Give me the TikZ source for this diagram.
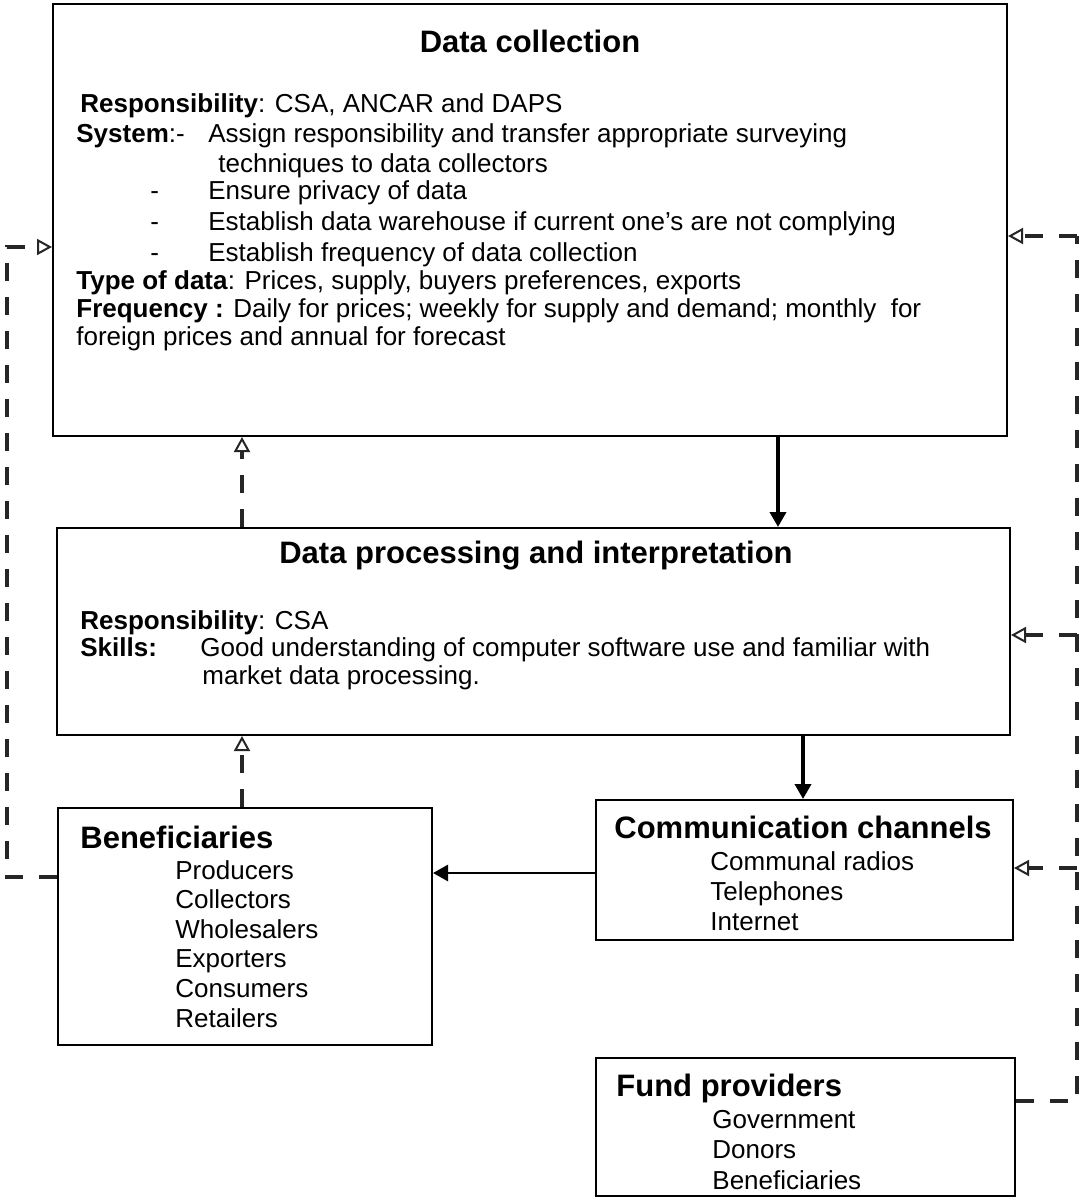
\documentclass[tikz,border=0pt]{standalone}
\usepackage{fontspec}
\setmainfont{Liberation Sans}
\usepackage{tikz}
\usepackage{xcolor}
\usetikzlibrary{arrows.meta,fit}

\begin{document}
\begin{tikzpicture}[x=0.5pt,y=-0.5pt,
	box/.style={draw,line width=1pt,inner sep=0pt},
	head/.style={font=\fontsize{15.5}{18}\selectfont\bfseries,inner sep=0pt},
	txt/.style={font=\fontsize{13}{15.5}\selectfont,inner sep=0pt,anchor=base west},
	solidarrow/.style={line width=1.8pt,-{Triangle[length=7.5pt,width=8pt]}},
	dashline/.style={line width=2pt,black!85,dash pattern=on 9pt off 8pt},
	dasharrow/.style={dashline,-{Triangle[open,length=7.5pt,width=8pt,line width=1pt]}}]
\useasboundingbox (0,0) rectangle (1079,1199);

% boxes
\node[box,fit={(53,4) (1007,436)}] (dc) {};
\node[box,fit={(57,528) (1010,735)}] (dp) {};
\node[box,fit={(58,808) (432,1045)}] (ben) {};
\node[box,fit={(596,800) (1013,940)}] (cc) {};
\node[box,fit={(596,1058) (1015,1196)}] (fp) {};

% data collection
\node[head,anchor=base] (dctitle) at (530,52) {Data collection};
\node[txt] (dcresp) at (80,112) {\textbf{Responsibility}: CSA, ANCAR and DAPS};
\node[txt] (dcsys) at (76,142) {\textbf{System}:-};
\node[txt] (dcsys1) at (208,142) {Assign responsibility and transfer appropriate surveying};
\node[txt] (dcsys2) at (218,172) {techniques to data collectors};
\foreach \t [count=\i] in {Ensure privacy of data,
		Establish data warehouse if current one's are not complying,
		Establish frequency of data collection}{
	\node[txt] (dcdash\i) at (150,{199+31*(\i-1)}) {-};
	\node[txt] (dcitem\i) at (208,{199+31*(\i-1)}) {\t};
}
\node[txt] (dctype) at (76,289) {\textbf{Type of data}: Prices, supply, buyers preferences, exports};
\node[txt] (dcfreq) at (76,317) {\textbf{Frequency :} Daily for prices; weekly for supply and demand; monthly\ \ for};
\node[txt] (dcfreq2) at (76,345) {foreign prices and annual for forecast};

% data processing
\node[head,anchor=base] (dptitle) at (536,563) {Data processing and interpretation};
\node[txt] (dpresp) at (80,629) {\textbf{Responsibility}: CSA};
\node[txt] (dpskill) at (80,656) {\textbf{Skills:}};
\node[txt] (dpskill1) at (200,656) {Good understanding of computer software use and familiar with};
\node[txt] (dpskill2) at (202,684) {market data processing.};

% beneficiaries
\node[head,anchor=base west] (bentitle) at (80,848) {Beneficiaries};
\foreach \t [count=\i] in {Producers,Collectors,Wholesalers,Exporters,Consumers,Retailers}
	\node[txt] (benitem\i) at (175,{879+29.6*(\i-1)}) {\t};

% communication channels
\node[head,anchor=base west] (cctitle) at (614,838) {Communication channels};
\foreach \t [count=\i] in {Communal radios,Telephones,Internet}
	\node[txt] (ccitem\i) at (710,{870+30*(\i-1)}) {\t};

% fund providers
\node[head,anchor=base west] (fptitle) at (616,1096) {Fund providers};
\foreach \t [count=\i] in {Government,Donors,Beneficiaries}
	\node[txt] (fpitem\i) at (712,{1128+30.5*(\i-1)}) {\t};

% connector positions
\coordinate (downa) at (778,0);
\coordinate (downb) at (803,0);
\coordinate (upx) at (242,0);
\coordinate (sidey) at (0,873);
\coordinate (lb) at (7,877);
\coordinate (lt) at (7,247);
\coordinate (rb) at (1077,1101);
\coordinate (rt) at (1077,236);
\coordinate (rm) at (1077,635);
\coordinate (rc) at (1077,868);

% main flow
\draw[solidarrow] (dc.south -| downa) -- (dp.north -| downa);
\draw[solidarrow] (dp.south -| downb) -- (cc.north -| downb);
\draw[solidarrow,line width=1.4pt] (cc.west |- sidey) -- (ben.east |- sidey);

% feedback
\draw[dasharrow] (dp.north -| upx) -- (dc.south -| upx);
\draw[dasharrow] (ben.north -| upx) -- (dp.south -| upx);
\draw[dasharrow] (ben.west |- lb) -- (lb) -- (lt) -- (dc.west |- lt);
\draw[dashline] (fp.east |- rb) -- (rb) -- (rt);
\draw[dasharrow] (rt) -- (dc.east |- rt);
\draw[dasharrow] (rm) -- (dp.east |- rm);
\draw[dasharrow] (rc) -- (cc.east |- rc);
\end{tikzpicture}
\end{document}
